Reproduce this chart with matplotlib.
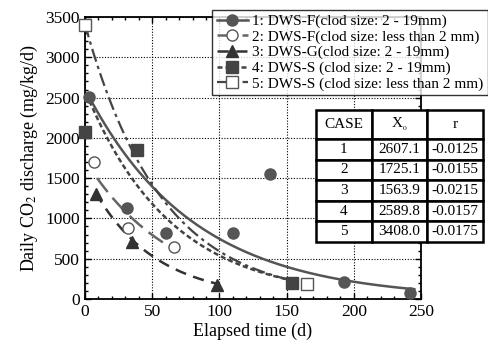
import numpy as np
import matplotlib
matplotlib.use("Agg")
import matplotlib.pyplot as plt
from matplotlib.ticker import MultipleLocator

plt.rcParams['font.family'] = ['Liberation Serif', 'DejaVu Serif']
plt.rcParams['mathtext.fontset'] = 'stix'

## Measured points (elapsed time d, daily CO2 discharge mg/kg/d)
t1 = [3, 31, 60, 110, 138, 193, 242]
y1 = [2510, 1130, 820, 820, 1550, 210, 70]
t2 = [7, 32, 66]
y2 = [1700, 880, 640]
t3 = [8, 35, 98]
y3 = [1300, 710, 175]
t4 = [0, 39, 154]
y4 = [2070, 1850, 200]
t5 = [0, 165]
y5 = [3400, 186]

## Fit parameters from the table: y = X0*exp(r*t)
cases = ['1', '2', '3', '4', '5']
X0 = [2607.1, 1725.1, 1563.9, 2589.8, 3408.0]
r = [-0.0125, -0.0155, -0.0215, -0.0157, -0.0175]
fit_start = [4, 9, 8, 1, 0]
fit_end = [245, 67, 98, 155, 163]

labels = ['1: DWS-F(clod size: 2 - 19mm)',
          '2: DWS-F(clod size: less than 2 mm)',
          '3: DWS-G(clod size: 2 - 19mm)',
          '4: DWS-S (clod size: 2 - 19mm)',
          '5: DWS-S (clod size: less than 2 mm)']

fig = plt.figure(figsize=(4.88, 3.44), dpi=100)
ax = fig.add_axes([85/488, 45/344, 336/488, 282/344])

styles = [
    dict(color='#555555', ls='-', lw=1.8, marker='o', mfc='#555555', mec='#555555', ms=8),
    dict(color='#666666', ls=(0, (7, 3)), lw=1.8, marker='o', mfc='white', mec='#555555', ms=8),
    dict(color='#333333', ls=(0, (4.5, 3)), lw=1.8, marker='^', mfc='#333333', mec='#333333', ms=8),
    dict(color='#444444', ls=(0, (2, 1.2)), lw=1.8, marker='s', mfc='#444444', mec='#444444', ms=8),
    dict(color='#444444', ls=(0, (6, 2, 1.5, 2)), lw=1.6, marker='s', mfc='white', mec='#555555', ms=8),
]
pts = [(t1, y1), (t2, y2), (t3, y3), (t4, y4), (t5, y5)]

handles = []
for i in range(5):
    st = styles[i]
    tt = np.linspace(fit_start[i], fit_end[i], 200)
    ax.plot(tt, X0[i]*np.exp(r[i]*tt), color=st['color'], ls=st['ls'], lw=st['lw'], zorder=3)
    ax.plot(pts[i][0], pts[i][1], ls='none', marker=st['marker'], mfc=st['mfc'],
            mec=st['mec'], ms=st['ms'], mew=1.0, zorder=4, clip_on=False)
    h, = ax.plot([], [], color=st['color'], ls=st['ls'], lw=st['lw'], marker=st['marker'],
                 mfc=st['mfc'], mec=st['mec'], ms=st['ms'], mew=1.0)
    handles.append(h)

ax.set_xlim(0, 250)
ax.set_ylim(0, 3500)
ax.xaxis.set_major_locator(MultipleLocator(50))
ax.xaxis.set_minor_locator(MultipleLocator(10))
ax.yaxis.set_major_locator(MultipleLocator(500))
ax.yaxis.set_minor_locator(MultipleLocator(100))
ax.tick_params(which='both', direction='in', top=True, right=True, labelsize=12.5, width=1)
ax.tick_params(which='major', length=4)
ax.tick_params(which='minor', length=2.5)
ax.grid(True, which='major', color='black', ls=(0, (1, 1.5)), lw=0.8)
for s in ax.spines.values():
    s.set_linewidth(1.3)
ax.set_xlabel('Elapsed time (d)', fontsize=13, labelpad=2)
ax.set_ylabel('Daily CO$_2$ discharge (mg/kg/d)', fontsize=13, labelpad=4)

leg = fig.legend(handles, labels, loc='upper right', bbox_to_anchor=(1.0, 0.972),
                 fontsize=11, frameon=True, fancybox=False, handlelength=2.0,
                 handletextpad=0.3, labelspacing=0.12, borderpad=0.3, borderaxespad=0)
leg.get_frame().set_edgecolor('black')
leg.get_frame().set_linewidth(1.0)

## Table
tax = fig.add_axes([316/488, 102/344, 167/488, 132/344])
tax.axis('off')
cell_text = [[cases[i], '%.1f' % X0[i], '%.4f' % r[i]] for i in range(5)]
tab = tax.table(cellText=cell_text, colLabels=['CASE', 'X$_{_0}$', 'r'],
                cellLoc='center', bbox=[0, 0, 1, 1])
tab.auto_set_font_size(False)
tab.set_fontsize(11)
hh = 29/132
rh = (1 - hh)/5
for (row, col), cell in tab.get_celld().items():
    cell.set_linewidth(1.8)
    cell.set_edgecolor('black')
    cell.set_facecolor('white')
    cell.set_height(hh if row == 0 else rh)
    cell.set_width(1/3)
    cell.get_text().set_fontsize(11)

fig.savefig('out.png', dpi=100)
